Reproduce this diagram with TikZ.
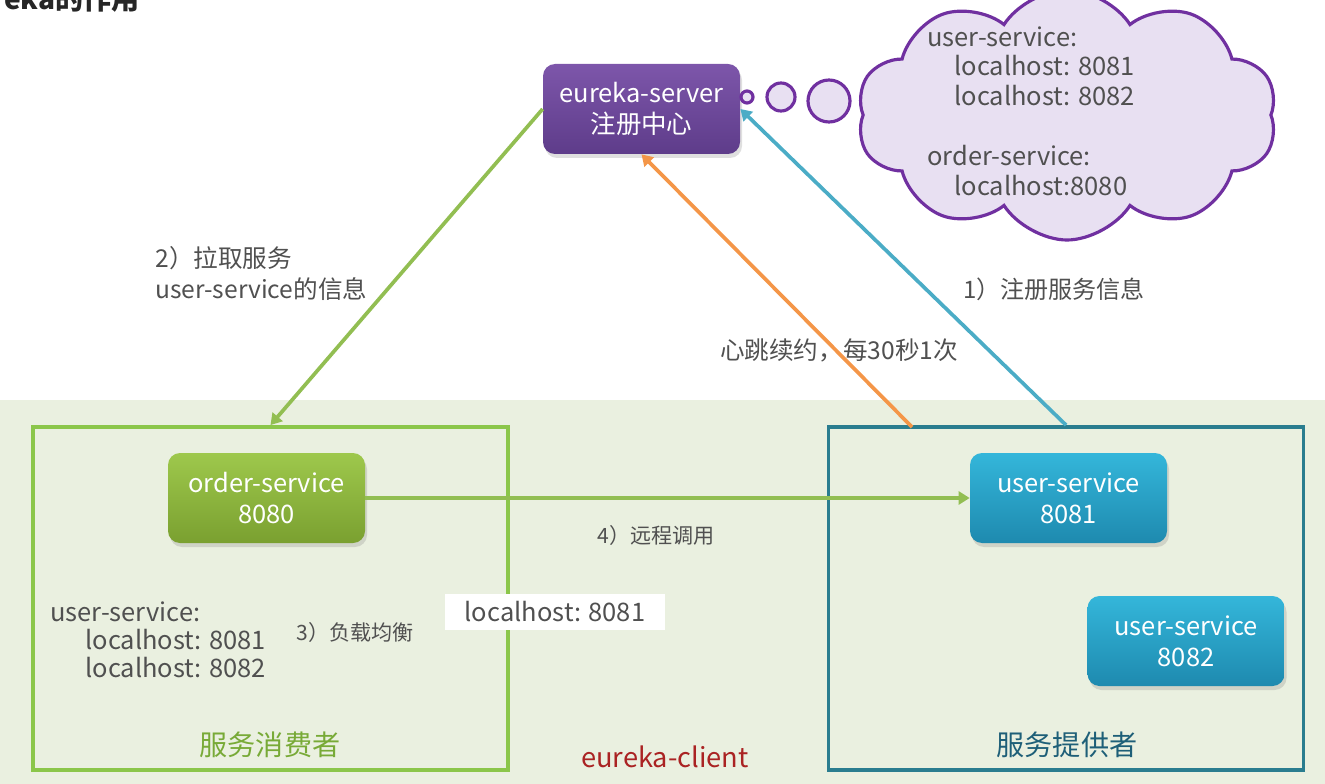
\documentclass[tikz,border=0pt]{standalone}
\usepackage{fontspec}
\setmainfont{Noto Sans CJK SC}
\usetikzlibrary{shapes.symbols,shadows,arrows.meta}

\definecolor{clientbg}{RGB}{234,240,224}
\definecolor{consgreen}{RGB}{139,198,74}
\definecolor{provteal}{RGB}{42,125,143}
\definecolor{pullgreen}{RGB}{146,190,82}
\definecolor{regblue}{RGB}{75,172,198}
\definecolor{beatorange}{RGB}{244,150,72}
\definecolor{srvtop}{RGB}{125,86,170}
\definecolor{srvbot}{RGB}{94,60,138}
\definecolor{ordtop}{RGB}{158,200,76}
\definecolor{ordbot}{RGB}{122,160,48}
\definecolor{usrtop}{RGB}{52,182,218}
\definecolor{usrbot}{RGB}{30,138,175}
\definecolor{cloudfill}{RGB}{232,224,242}
\definecolor{cloudline}{RGB}{112,48,160}
\definecolor{txtgray}{RGB}{80,80,80}
\definecolor{clientred}{RGB}{170,35,35}
\definecolor{consname}{RGB}{120,170,55}
\definecolor{provname}{RGB}{30,95,120}

\tikzset{
  svc/.style={rounded corners=0.24cm, minimum width=3.94cm, minimum height=1.8cm,
    align=center, text=white, font=\fontsize{14.5}{17.5}\selectfont,
    drop shadow={opacity=0.25, shadow xshift=0.04cm, shadow yshift=-0.08cm}},
  area/.style={draw, line width=2.2pt, minimum width=9.5cm, minimum height=6.86cm},
  bubble/.style={circle, draw=cloudline, fill=cloudfill, line width=1.8pt, inner sep=0pt},
  note/.style={text=txtgray, align=left, inner sep=0pt},
  flow/.style={->, line width=2.1pt}
}

\begin{document}
\begin{tikzpicture}[>={Triangle[length=0.22cm,width=0.26cm]}]
  \useasboundingbox (0,0) rectangle (26.5,-15.68);
  % client area
  \fill[clientbg] (0,-8.0) rectangle (26.5,-15.68);

  % title, cut at the left edge
  \node[anchor=base east, text=black!85, font=\fontsize{16}{18}\selectfont\bfseries] (title) at (2.92,-0.2) {eureka的作用};

  % consumer and provider
  \node[area, draw=consgreen] (consumer) at (5.41,-11.97) {};
  \node[area, draw=provteal] (provider) at (21.32,-11.97) {};

  % services
  \node[svc, top color=srvtop, bottom color=srvbot] (server) at (12.83,-2.18) {eureka-server\\注册中心};
  \node[svc, top color=ordtop, bottom color=ordbot] (order) at (5.33,-9.96) {order-service\\8080};
  \node[svc, top color=usrtop, bottom color=usrbot] (user1) at (21.37,-9.96) {user-service\\8081};
  \node[svc, top color=usrtop, bottom color=usrbot] (user2) at (23.72,-12.82) {user-service\\8082};

  % registry cloud
  \node[cloud, cloud puffs=10, cloud puff arc=115, shape border rotate=15, draw=cloudline, fill=cloudfill, line width=1.8pt,
    minimum width=8.4cm, minimum height=5.0cm] (reg) at (21.34,-2.3) {};
  \node[bubble, minimum size=0.24cm] (b1) at (14.94,-1.94) {};
  \node[bubble, minimum size=0.56cm] (b2) at (15.62,-1.94) {};
  \node[bubble, minimum size=0.84cm] (b3) at (16.58,-2.02) {};
  \node[note, anchor=north west, font=\fontsize{14.5}{17}\selectfont] (regtxt) at (18.54,-0.52)
    {user-service:\\\hspace*{0.54cm}localhost: 8081\\\hspace*{0.54cm}localhost: 8082\\[17pt]
     order-service:\\\hspace*{0.54cm}localhost:8080};

  % connectors
  \draw[flow, pullgreen] (server.west) -- (consumer.north);
  \draw[flow, regblue] (provider.north) -- (server.east);
  \coordinate (hb) at (18.24,-8.54);
  \draw[flow, beatorange] (hb) -- (server.south);
  \draw[flow, pullgreen] (order.east) -- (user1.west);

  % labels
  \node[note, anchor=west, font=\fontsize{14}{17.5}\selectfont] (pull) at (3.1,-5.47) {2）拉取服务\\user-service的信息};
  \node[note, font=\fontsize{13.7}{17}\selectfont] (regl) at (21.08,-5.78) {1）注册服务信息};
  \node[note, font=\fontsize{14}{16}\selectfont] (beat) at (16.78,-7.0) {心跳续约，每30秒1次};
  \node[note, font=\fontsize{12}{15}\selectfont] (call) at (13.12,-10.7) {4）远程调用};
  \node[note, font=\fontsize{12}{15}\selectfont] (bal) at (7.1,-12.64) {3）负载均衡};

  % local list in the consumer
  \node[note, anchor=north west, font=\fontsize{14.5}{16}\selectfont] (list) at (1.0,-12.02)
    {user-service:\\\hspace*{0.7cm}localhost: 8081\\\hspace*{0.7cm}localhost: 8082};
  \node[fill=white, text=txtgray, minimum width=4.4cm, minimum height=0.72cm, font=\fontsize{14.5}{16}\selectfont] (pick) at (11.1,-12.24) {localhost: 8081};

  % area names
  \node[text=consname, font=\fontsize{16}{19}\selectfont] (consl) at (5.4,-14.9) {服务消费者};
  \node[text=provname, font=\fontsize{16}{19}\selectfont] (provl) at (21.34,-14.9) {服务提供者};
  \node[text=clientred, font=\fontsize{15.5}{18}\selectfont] (client) at (13.3,-15.14) {eureka-client};
\end{tikzpicture}
\end{document}
